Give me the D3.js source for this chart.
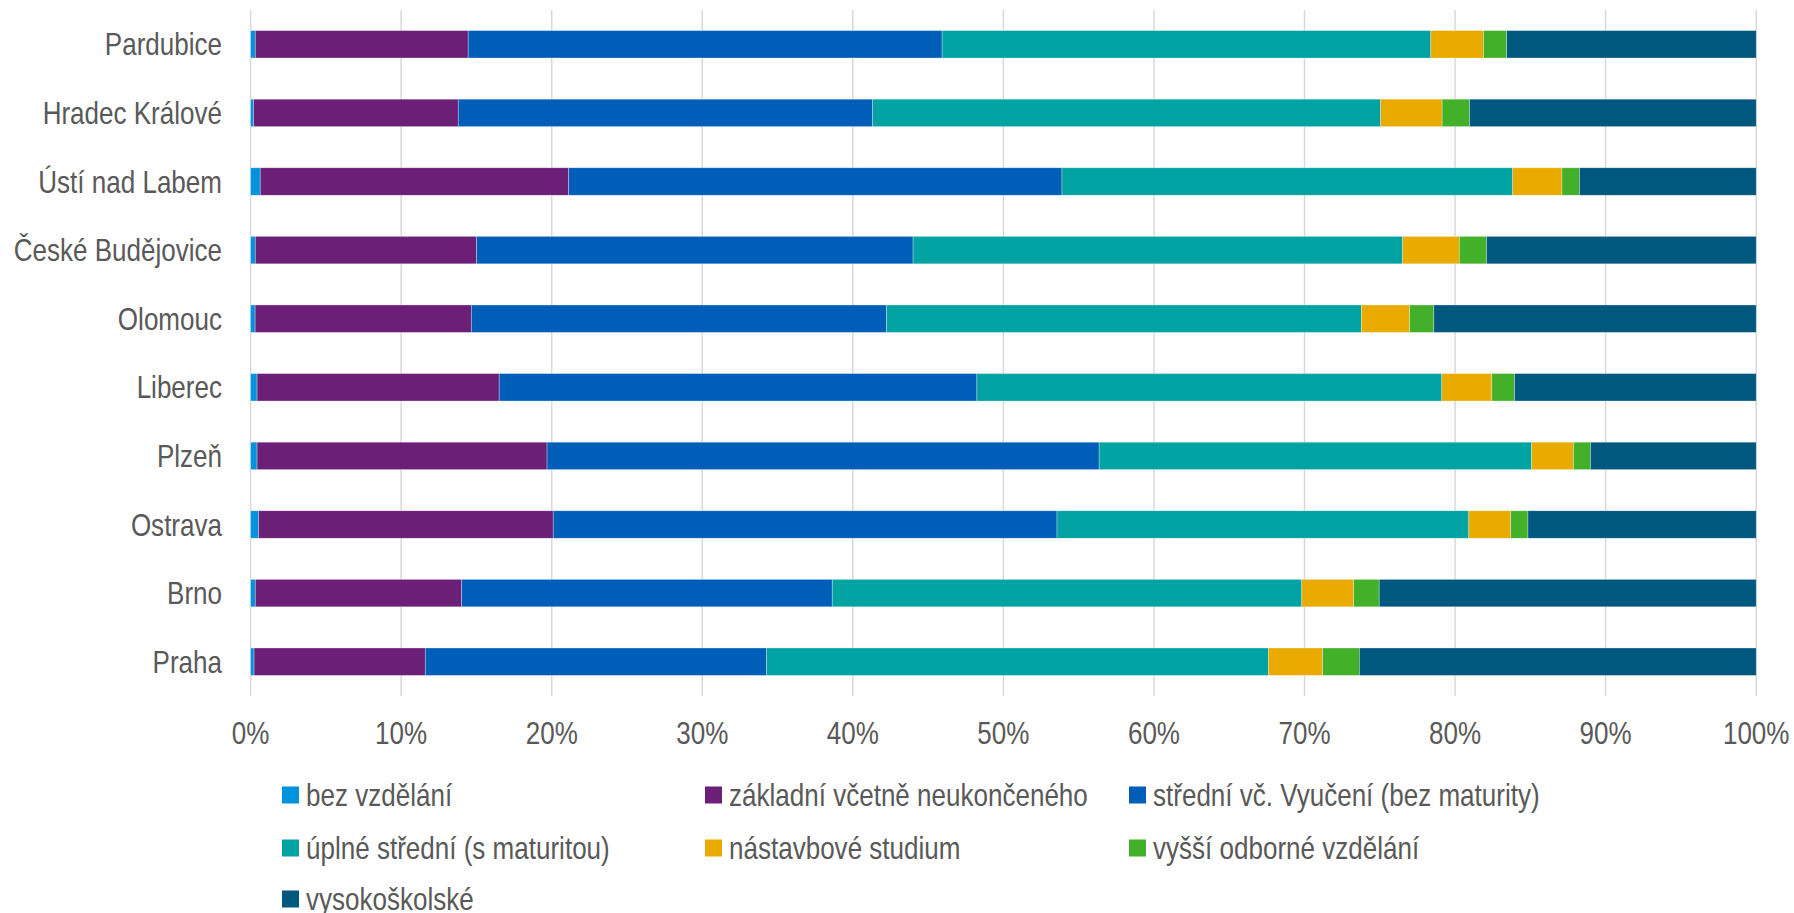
<!DOCTYPE html>
<html><head><meta charset="utf-8">
<script src="https://cdn.jsdelivr.net/npm/d3@7"></script>
<style>html,body{margin:0;padding:0;background:#fff;}</style>
</head><body>
<svg id="chart" width="1794" height="913"></svg>
<script>
const categories = ["Pardubice","Hradec Králové","Ústí nad Labem","České Budějovice","Olomouc","Liberec","Plzeň","Ostrava","Brno","Praha"];
const seriesNames = ["bez vzdělání","základní včetně neukončeného","střední vč. Vyučení (bez maturity)","úplné střední (s maturitou)","nástavbové studium","vyšší odborné vzdělání","vysokoškolské"];
const colors = ["#0093DD","#6C1F77","#005EB8","#00A3A1","#EAAB00","#43B02A","#00587F"];
const bez      = [0.31,0.20,0.64,0.31,0.30,0.43,0.43,0.53,0.31,0.23];
const zakladni = [14.14,13.59,20.48,14.70,14.36,16.08,19.26,19.57,13.71,11.37];
const stredni  = [31.48,27.53,32.77,28.99,27.58,31.73,36.67,33.46,24.61,22.67];
const uplne    = [32.46,33.74,29.94,32.52,31.54,30.88,28.73,27.35,31.19,33.34];
const nastavba = [3.50,4.08,3.27,3.76,3.20,3.32,2.77,2.79,3.45,3.60];
const vyssi    = [1.54,1.82,1.16,1.81,1.61,1.51,1.13,1.14,1.69,2.43];
const vs       = [16.57,19.04,11.74,17.91,21.41,16.05,11.01,15.16,25.04,26.36];
const xTicks = [0,0.1,0.2,0.3,0.4,0.5,0.6,0.7,0.8,0.9,1];

const seriesValues = [bez,zakladni,stredni,uplne,nastavba,vyssi,vs];
const table = categories.map((c,i)=>{const o={cat:c}; seriesNames.forEach((s,j)=>o[s]=seriesValues[j][i]); return o;});

const svg = d3.select("#chart");
const FONT = '"Liberation Sans",Arial,sans-serif';
const TXT = "#595959";
const FS = 31;
const SX = 0.84; // horizontal condensing to mimic narrow font

const x = d3.scaleLinear().domain([0,1]).range([250.6,1756.2]);
const y = d3.scaleBand().domain(categories).range([10,696]).paddingInner(0.6).paddingOuter(0.3);

// gridlines
svg.append("g").selectAll("line").data(xTicks).join("line")
  .attr("x1",d=>x(d)).attr("x2",d=>x(d)).attr("y1",10).attr("y2",696)
  .attr("stroke","#D9D9D9").attr("stroke-width",1.5);

const stack = d3.stack().keys(seriesNames).offset(d3.stackOffsetExpand);
const stacked = stack(table);

svg.append("g").selectAll("g").data(stacked).join("g")
  .attr("fill",(d,i)=>colors[i])
  .selectAll("rect").data(d=>d).join("rect")
  .attr("x",d=>x(d[0])).attr("width",d=>x(d[1])-x(d[0]))
  .attr("y",d=>y(d.data.cat)).attr("height",y.bandwidth())
  .attr("stroke","#ffffff").attr("stroke-width",0.6).attr("stroke-opacity",0.5);

function label(g, tx, ty, anchor, txt){
  g.append("text")
    .attr("transform",`translate(${tx},${ty}) scale(${SX},1)`)
    .attr("text-anchor",anchor).attr("dy","0.36em")
    .attr("font-family",FONT).attr("font-size",FS).attr("fill",TXT)
    .text(txt);
}

// x axis labels
const xa = svg.append("g");
xTicks.forEach(d=>label(xa, x(d), 733, "middle", d3.format(".0%")(d)));

// category labels
const ya = svg.append("g");
categories.forEach(c=>label(ya, 222, y(c)+y.bandwidth()/2, "end", c));

// legend
const legX = [282,705,1129];
const legY = [795,848,899];
const leg = svg.append("g");
seriesNames.forEach((s,i)=>{
  const lx = legX[i%3], ly = legY[Math.floor(i/3)];
  leg.append("rect").attr("x",lx).attr("y",ly-8.5).attr("width",17).attr("height",17).attr("fill",colors[i]);
  label(leg, lx+24, ly, "start", s);
});
</script>
</body></html>
